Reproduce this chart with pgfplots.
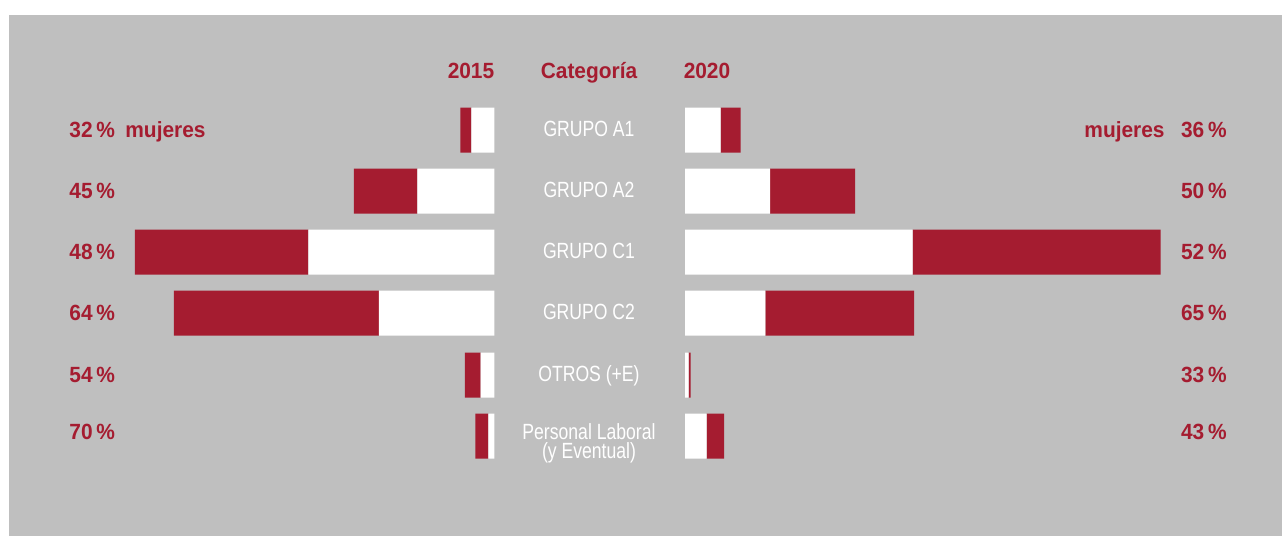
\documentclass[border=0pt]{standalone}
\usepackage{pgfplots}
\pgfplotsset{compat=1.18}
\usepackage{fontspec}
\setmainfont{Liberation Sans}
\newfontfamily\headfont{Liberation Sans}[FakeStretch=0.95]
\newfontfamily\condfont{Liberation Sans}[FakeStretch=0.8]
\definecolor{bgray}{RGB}{191,191,191}
\definecolor{cred}{RGB}{165,28,48}
\begin{document}
\begin{tikzpicture}
% background and text layer (1 px = 0.5pt)
\begin{axis}[at={(0,0)}, anchor=south west, scale only axis,
  width=641pt, height=268pt, xmin=0, xmax=1282, ymin=0, ymax=536,
  y dir=reverse, hide axis, clip=false]
\fill[bgray] (axis cs:9,15) rectangle (axis cs:1282,536);
\tikzset{hd/.style={inner sep=0pt, text=cred, font=\headfont\fontsize{11}{13}\selectfont\bfseries},
         cat/.style={inner sep=0pt, text=white, font=\condfont\fontsize{11}{13}\selectfont}}
\node[hd, anchor=base] at (axis cs:471,78.3) {2015};
\node[hd, anchor=base] at (axis cs:589,78.3) {Categoría};
\node[hd, anchor=base] at (axis cs:707,78.3) {2020};
% left percentages (2015)
\node[hd, anchor=base west] at (axis cs:69,137.7) {32\,\%};
\node[hd, anchor=base west] at (axis cs:125,137.7) {mujeres};
\node[hd, anchor=base west] at (axis cs:69,198.7) {45\,\%};
\node[hd, anchor=base west] at (axis cs:69,259.7) {48\,\%};
\node[hd, anchor=base west] at (axis cs:69,320.7) {64\,\%};
\node[hd, anchor=base west] at (axis cs:69,382.7) {54\,\%};
\node[hd, anchor=base west] at (axis cs:69,439.3) {70\,\%};
% right percentages (2020)
\node[hd, anchor=base east] at (axis cs:1227,137.7) {36\,\%};
\node[hd, anchor=base east] at (axis cs:1165,137.7) {mujeres};
\node[hd, anchor=base east] at (axis cs:1227,198.7) {50\,\%};
\node[hd, anchor=base east] at (axis cs:1227,259.7) {52\,\%};
\node[hd, anchor=base east] at (axis cs:1227,320.7) {65\,\%};
\node[hd, anchor=base east] at (axis cs:1227,382.7) {33\,\%};
\node[hd, anchor=base east] at (axis cs:1227,439.3) {43\,\%};
% category labels
\node[cat, anchor=base] at (axis cs:589,136) {GRUPO A1};
\node[cat, anchor=base] at (axis cs:589,197) {GRUPO A2};
\node[cat, anchor=base] at (axis cs:589,258) {GRUPO C1};
\node[cat, anchor=base] at (axis cs:589,319) {GRUPO C2};
\node[cat, anchor=base] at (axis cs:589,381) {OTROS (+E)};
\node[inner sep=0pt, text=white, align=center, anchor=base,
      font=\condfont\fontsize{11}{9.6}\selectfont] at (axis cs:589,458.5)
      {Personal Laboral\\(y Eventual)};
\end{axis}
% 2015 bars (grow to the left)
\begin{axis}[at={(4.5pt,0)}, anchor=south west, scale only axis,
  width=242.75pt, height=268pt, xmin=0, xmax=485.5, x dir=reverse,
  ymin=0, ymax=536, y dir=reverse, hide axis,
  xbar stacked, bar width=22.5pt]
\addplot[fill=white, draw=none] coordinates {(23,130) (77,191) (186,252) (115.5,313) (13.8,375) (6.2,436)};
\addplot[fill=cred, draw=none] coordinates {(11,130) (63.5,191) (173.5,252) (205,313) (15.7,375) (13,436)};
\end{axis}
% 2020 bars (grow to the right)
\begin{axis}[at={(342.5pt,0)}, anchor=south west, scale only axis,
  width=298.5pt, height=268pt, xmin=0, xmax=597,
  ymin=0, ymax=536, y dir=reverse, hide axis,
  xbar stacked, bar width=22.5pt]
\addplot[fill=white, draw=none] coordinates {(35.7,130) (85,191) (227.7,252) (80.3,313) (3.7,375) (21.7,436)};
\addplot[fill=cred, draw=none] coordinates {(20,130) (85,191) (248,252) (148.7,313) (2,375) (17.3,436)};
\end{axis}
\pgfresetboundingbox
\path[use as bounding box] (0,0) rectangle (641pt,268pt);
\end{tikzpicture}
\end{document}
